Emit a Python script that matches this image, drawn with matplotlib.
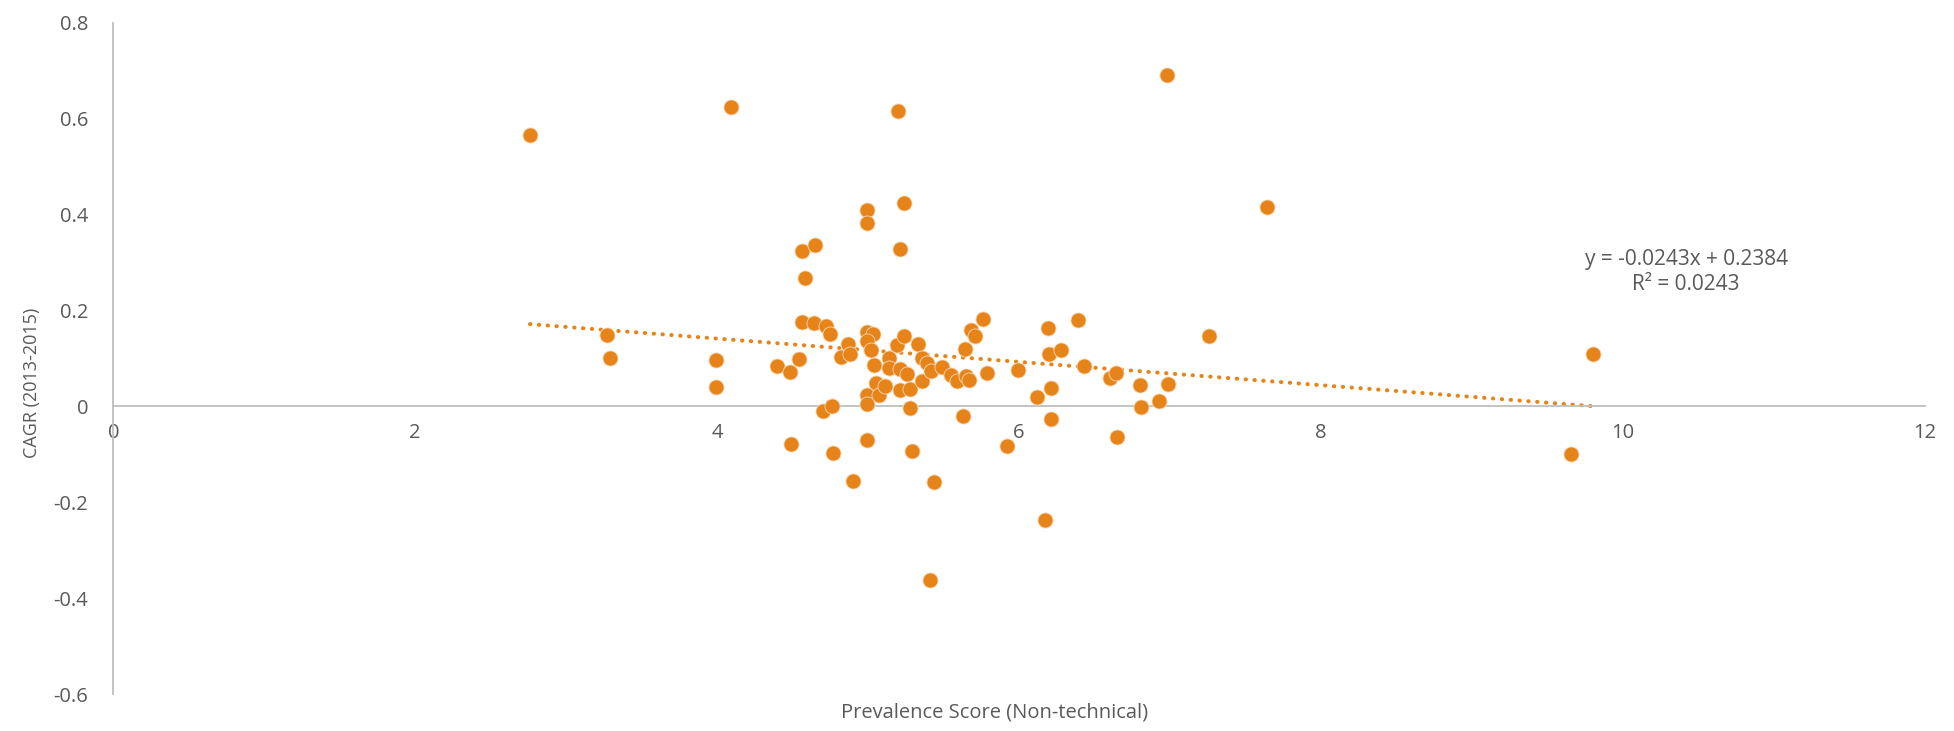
import matplotlib
matplotlib.use("Agg")
from matplotlib import pyplot as plt
from matplotlib.ticker import FuncFormatter, MultipleLocator

plt.rcParams['font.family'] = ['Open Sans', 'DejaVu Sans']
plt.rcParams['axes.unicode_minus'] = False

# prevalence score (non-technical) vs CAGR 2013-2015
prevalence = [
    2.76, 3.27, 3.29, 3.99, 3.99, 4.09, 4.40, 4.48, 4.49, 4.54,
    4.56, 4.56, 4.58, 4.65, 4.64, 4.72, 4.70, 4.75, 4.76, 4.77,
    4.82, 4.87, 4.88, 4.90, 4.99, 4.99, 4.99, 5.03, 4.99, 5.02,
    5.04, 4.99, 4.99, 4.99, 5.05, 5.07, 5.11, 5.14, 5.14, 5.19,
    5.20, 5.21, 5.21, 5.21, 5.24, 5.24, 5.26, 5.28, 5.28, 5.29,
    5.33, 5.36, 5.36, 5.39, 5.41, 5.42, 5.44, 5.49, 5.55, 5.59,
    5.63, 5.64, 5.65, 5.67, 5.68, 5.71, 5.76, 5.79, 5.92, 5.99,
    6.12, 6.19, 6.20, 6.21, 6.17, 6.21, 6.28, 6.39, 6.43, 6.60,
    6.64, 6.65, 6.80, 6.81, 6.93, 6.98, 6.99, 7.26, 7.64, 9.66,
    9.80,
]
cagr = [
    0.565, 0.148, 0.100, 0.096, 0.040, 0.625, 0.085, 0.072, -0.079, 0.099,
    0.323, 0.176, 0.268, 0.337, 0.174, 0.167, -0.010, 0.150, 0.000, -0.098,
    0.103, 0.129, 0.108, -0.155, 0.410, 0.383, 0.155, 0.150, 0.136, 0.117,
    0.087, 0.024, 0.005, -0.070, 0.049, 0.024, 0.042, 0.100, 0.080, 0.127,
    0.615, 0.329, 0.077, 0.033, 0.424, 0.146, 0.068, 0.037, -0.003, -0.093,
    0.130, 0.101, 0.052, 0.091, -0.363, 0.073, -0.157, 0.082, 0.065, 0.052,
    -0.020, 0.119, 0.063, 0.054, 0.160, 0.146, 0.183, 0.070, -0.082, 0.076,
    0.019, 0.164, 0.108, 0.038, -0.237, -0.026, 0.118, 0.180, 0.084, 0.058,
    0.070, -0.064, 0.045, -0.001, 0.010, 0.690, 0.047, 0.146, 0.415, -0.099,
    0.109,
]

# linear trendline coefficients
slope = -0.0243
intercept = 0.2384
r2 = 0.0243

orange = '#E6841A'
grey_axis = '#BFBFBF'
grey_text = '#595959'

fig = plt.figure(figsize=(19.54, 7.31), dpi=100)
ax = fig.add_axes([0.058, 0.0506, 0.927, 0.9184])

ax.scatter(prevalence, cagr, s=118, color=orange, edgecolors='#F6D9B8',
           linewidths=0.6, zorder=3)

x0, x1 = min(prevalence), max(prevalence)
ax.plot([x0, x1], [slope * x0 + intercept, slope * x1 + intercept],
        color=orange, lw=2.9, ls=(0, (0.1, 2.1)), dash_capstyle='round', zorder=2)

ax.text(10.42, 0.280, "y = %.4fx + %.4f\nR² = %.4f" % (slope, intercept, r2),
        ha='center', va='center', fontsize=15, color=grey_text, linespacing=1.3)

ax.set_xlim(0, 12)
ax.set_ylim(-0.6, 0.8)
ax.xaxis.set_major_locator(MultipleLocator(2))
ax.yaxis.set_major_locator(MultipleLocator(0.2))
fmt = FuncFormatter(lambda v, p: '%g' % round(v, 2))
ax.xaxis.set_major_formatter(fmt)
ax.yaxis.set_major_formatter(fmt)

ax.spines['top'].set_visible(False)
ax.spines['right'].set_visible(False)
ax.spines['bottom'].set_position(('data', 0))
ax.spines['left'].set_position(('data', 0))
for s in ('bottom', 'left'):
    ax.spines[s].set_color(grey_axis)
    ax.spines[s].set_linewidth(1.3)
ax.tick_params(length=0, labelsize=14.5, colors=grey_text)
ax.tick_params(axis='x', pad=12)
ax.tick_params(axis='y', pad=18)

fig.text(0.509, 0.025, "Prevalence Score (Non-technical)", ha='center', va='center',
         fontsize=14.5, color=grey_text)
fig.text(0.0164, 0.476, "CAGR (2013-2015)", ha='center', va='center', rotation=90,
         fontsize=13, color=grey_text)

fig.savefig("out.png", dpi=100)
